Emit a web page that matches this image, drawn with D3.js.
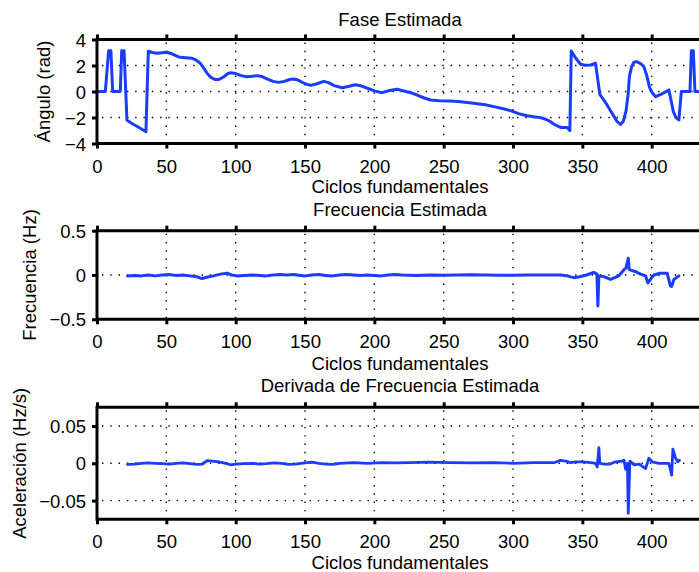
<!DOCTYPE html>
<html>
<head>
<meta charset="utf-8">
<script src="https://cdn.jsdelivr.net/npm/d3@7"></script>
<style>
  html, body { margin: 0; padding: 0; background: #fff; }
  svg { display: block; }
  text { font-family: "Liberation Sans", Arial, Helvetica, sans-serif; fill: #000; }
</style>
</head>
<body>
<svg id="chart" width="699" height="572"></svg>
<script>
// Estimated phase (rad) per fundamental cycle
const phaseX = [0, 6, 8.4, 10, 11.3, 16.8, 17.8, 19.5, 21.6, 24, 30, 35.3, 37, 40, 43.3, 47, 50.5, 54, 58, 60, 64, 68.5, 71, 74.5, 77, 79.4, 82, 85, 88, 91, 94, 96.2, 100, 104, 108, 112, 115.4, 119, 123, 127, 131, 135, 139, 141.8, 145, 149, 154, 158, 163.5, 167, 171, 176.8, 181, 186.4, 190, 195, 200, 205.6, 210, 216.4, 222, 227, 230.9, 236, 240.5, 247, 254.9, 262, 271.7, 280, 288.6, 293, 298.2, 304, 310.2, 315, 319.8, 324, 327, 330, 334.3, 339, 341, 342, 345, 348.7, 352, 356, 359.5, 362.6, 367, 371, 375, 377.5, 379.5, 381.5, 383, 384, 385.5, 387.2, 389.1, 392, 394.4, 396.5, 398.5, 400.4, 402.8, 407, 412.4, 414, 415.6, 417.5, 419.6, 421.4, 427.6, 428.6, 430, 431.2, 437];
const phaseY = [0, 0, 3.14, 3.14, 0, 0, 3.14, 3.14, -2.2, -2.38, -2.75, -3.09, 3.1, 3.0, 2.94, 2.98, 3.02, 2.9, 2.7, 2.63, 2.6, 2.55, 2.45, 2.17, 1.8, 1.4, 1.1, 0.92, 0.93, 1.1, 1.35, 1.45, 1.38, 1.22, 1.14, 1.18, 1.22, 1.15, 0.95, 0.78, 0.7, 0.78, 0.92, 0.96, 0.88, 0.65, 0.47, 0.58, 0.78, 0.68, 0.45, 0.29, 0.38, 0.52, 0.45, 0.25, 0.05, -0.09, 0.05, 0.17, 0.02, -0.12, -0.27, -0.5, -0.65, -0.72, -0.73, -0.78, -0.91, -1.02, -1.22, -1.33, -1.47, -1.7, -1.86, -1.95, -2.01, -2.15, -2.32, -2.55, -2.76, -2.76, -3.01, 3.11, 2.6, 2.1, 2.02, 2.04, 2.17, -0.22, -0.9, -1.6, -2.3, -2.53, -2.3, -1.5, -0.2, 1.2, 1.9, 2.25, 2.3, 2.15, 1.9, 1.2, 0.3, -0.1, -0.4, -0.2, 0.12, -0.7, -1.55, -2.0, -2.19, 0, 0, 3.14, 3.14, 0, 0];

// Estimated frequency deviation (Hz)
const freqX = [22, 27, 32, 37, 42, 47, 52, 57, 62, 67, 72, 75.7, 79, 84, 89, 93.8, 97, 101, 106, 112, 117, 122, 127, 132, 137, 142, 147, 150, 155, 160, 165, 170, 175, 180, 185, 190, 195, 200, 205, 210, 215, 220, 230, 240, 250, 260, 270, 280, 290, 300, 310, 320, 330, 334.3, 339, 343.9, 348, 353, 358.3, 360.5, 361.2, 361.9, 366, 370.3, 376.3, 380, 381.5, 383.1, 383.8, 388, 392, 395.6, 397.3, 399.5, 401.6, 406, 411.2, 413.4, 414.4, 416, 419.6];
const freqY = [-0.01, -0.005, -0.01, 0.0, -0.01, 0.0, 0.005, -0.005, 0.0, -0.01, -0.02, -0.04, -0.025, -0.01, 0.01, 0.02, 0.0, -0.01, -0.005, 0.0, -0.005, -0.01, 0.0, 0.005, 0.0, 0.005, -0.005, -0.01, 0.0, 0.005, -0.005, -0.01, 0.0, 0.005, 0.0, -0.005, 0.0, -0.005, -0.01, 0.0, 0.005, 0.0, -0.005, 0.0, -0.002, 0.0, 0.002, 0.0, -0.003, -0.002, 0.0, 0.0, 0.0, 0.0, -0.01, -0.03, -0.02, 0.0, 0.03, 0.01, -0.35, -0.01, -0.02, -0.05, -0.01, 0.06, 0.08, 0.19, 0.06, 0.04, 0.01, -0.01, -0.09, -0.04, 0.0, 0.02, 0.02, -0.12, -0.13, -0.05, -0.01];

// Estimated frequency derivative (Hz/s)
const accelX = [22, 27, 32, 37, 42, 47, 52, 57, 62, 67, 72, 76, 79.4, 83, 88, 93, 96.2, 100, 106, 112, 117, 122, 128, 133, 138, 143, 150, 155, 160, 165, 170, 175, 185, 195, 205, 215, 225, 240, 255, 270, 285, 300, 315, 330, 334.3, 338, 341.5, 345, 350, 356, 359.5, 360.7, 361.9, 362.6, 366, 370, 374, 378.8, 380, 381.2, 382.5, 383.1, 384.3, 387.2, 391, 395.6, 398, 400.4, 405, 412.4, 414.4, 415.3, 417.2, 418.9, 420];
const accelY = [-0.0015, -0.001, 0.0, 0.0005, 0.0, -0.0005, -0.001, 0.0, 0.0005, -0.0005, -0.0015, -0.001, 0.0035, 0.003, 0.002, 0.0, -0.002, -0.001, -0.0005, 0.0, -0.001, -0.0005, 0.0005, 0.0, -0.0015, -0.001, 0.0005, 0.0015, 0.0, -0.001, -0.0015, 0.0, 0.001, 0.0, 0.001, 0.0005, 0.001, 0.0015, 0.001, 0.0005, 0.001, 0.0, 0.001, 0.001, 0.004, 0.003, 0.001, 0.002, 0.002, 0.001, 0.0, -0.005, 0.021, 0.0, -0.001, -0.001, 0.002, 0.003, 0.004, -0.008, 0.0, -0.067, 0.003, -0.002, -0.001, -0.007, 0.007, 0.002, 0.0, 0.0, -0.016, 0.019, 0.007, 0.002, 0.004];

// Axis ticks and labels
const xTicks = [0, 50, 100, 150, 200, 250, 300, 350, 400];
const phaseTicks = [-4, -2, 0, 2, 4];
const freqTicks = [-0.5, 0, 0.5];
const accelTicks = [-0.05, 0, 0.05];
const titles = ["Fase Estimada", "Frecuencia Estimada", "Derivada de Frecuencia Estimada"];
const yLabels = ["Ángulo (rad)", "Frecuencia (Hz)", "Aceleración (Hz/s)"];
const xLabel = "Ciclos fundamentales";

const svg = d3.select("#chart");
const FONT = 18.5;
const LINE_COLOR = "#1a3cff";
const left = 97, right = 703;

const x = d3.scaleLinear().domain([0, 437]).range([left, right]);
const fmt = v => (v < 0 ? "\u2212" : "") + String(Math.abs(v));

const panels = [
  { xs: phaseX, ys: phaseY, domain: [-4, 4], ticks: phaseTicks, top: 39.5, bottom: 143.5,
    title: titles[0], ylab: yLabels[0], ylabX: 50, titleY: 26, xlabY: 192.5, lw: 3 },
  { xs: freqX, ys: freqY, domain: [-0.5, 0.5], ticks: freqTicks, top: 230.7, bottom: 319.3,
    title: titles[1], ylab: yLabels[1], ylabX: 35.5, titleY: 215.7, xlabY: 370, lw: 3 },
  { xs: accelX, ys: accelY, domain: [-0.075, 0.075], ticks: accelTicks, top: 407.3, bottom: 519.3,
    title: titles[2], ylab: yLabels[2], ylabX: 26, titleY: 391.7, xlabY: 569, lw: 2.8 }
];

panels.forEach(p => {
  const y = d3.scaleLinear().domain(p.domain).range([p.bottom, p.top]);
  const g = svg.append("g");

  // dotted grid
  const grid = g.append("g")
    .attr("stroke", "#000").attr("stroke-width", 1.4)
    .attr("stroke-dasharray", "1.4,6.9");
  grid.selectAll("line.v").data(xTicks.filter(t => t > 0)).join("line")
    .attr("x1", d => x(d)).attr("x2", d => x(d))
    .attr("y1", p.top + 3).attr("y2", p.bottom);
  grid.selectAll("line.h").data(p.ticks.filter(t => t > p.domain[0] && t < p.domain[1])).join("line")
    .attr("x1", left + 5).attr("x2", right)
    .attr("y1", d => y(d)).attr("y2", d => y(d));

  // data line
  const pts = p.xs.map((v, i) => [v, p.ys[i]]);
  g.append("path")
    .datum(pts)
    .attr("fill", "none")
    .attr("stroke", LINE_COLOR)
    .attr("stroke-width", p.lw)
    .attr("stroke-linejoin", "round")
    .attr("stroke-linecap", "round")
    .attr("d", d3.line().x(d => x(d[0])).y(d => y(d[1])));

  // axes
  const axB = g.append("g").attr("transform", `translate(0,${p.bottom})`)
    .call(d3.axisBottom(x).tickValues(xTicks).tickSize(5).tickSizeOuter(0).tickFormat(fmt));
  const axT = g.append("g").attr("transform", `translate(0,${p.top})`)
    .call(d3.axisTop(x).tickValues(xTicks).tickSize(5).tickSizeOuter(0).tickFormat(""));
  const axL = g.append("g").attr("transform", `translate(${left},0)`)
    .call(d3.axisLeft(y).tickValues(p.ticks).tickSize(5).tickSizeOuter(0).tickFormat(fmt));

  [axB, axT, axL].forEach(a => {
    a.select(".domain").remove();
    a.selectAll(".tick line").attr("stroke", "#000").attr("stroke-width", 3);
    a.selectAll("text").attr("font-family", "Liberation Sans, Arial, sans-serif")
      .attr("font-size", FONT).attr("fill", "#000");
  });
  axB.selectAll("text").attr("y", 29).attr("dy", 0);
  axL.selectAll("text").attr("x", -11).attr("dy", "0.36em");

  // box (right edge lies past the window)
  g.append("path")
    .attr("fill", "none").attr("stroke", "#000").attr("stroke-width", 3)
    .attr("d", `M${right},${p.top}H${left}V${p.bottom}H${right}`);

  // texts
  g.append("text").attr("x", (left + right) / 2).attr("y", p.titleY)
    .attr("text-anchor", "middle").attr("font-size", FONT).text(p.title);
  g.append("text").attr("x", (left + right) / 2).attr("y", p.xlabY)
    .attr("text-anchor", "middle").attr("font-size", FONT).text(xLabel);
  g.append("text")
    .attr("transform", `translate(${p.ylabX},${(p.top + p.bottom) / 2}) rotate(-90)`)
    .attr("text-anchor", "middle").attr("font-size", FONT).text(p.ylab);
});
</script>
</body>
</html>
